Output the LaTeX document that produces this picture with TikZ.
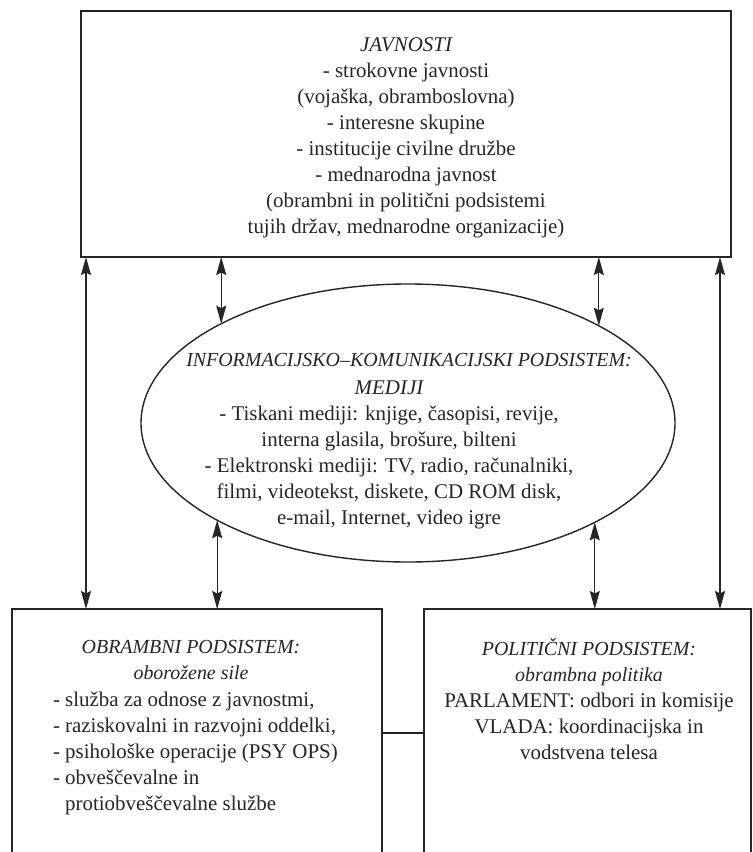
\documentclass[tikz,border=0pt]{standalone}
\usepackage{fontspec}
\setmainfont{Liberation Serif}
\usetikzlibrary{arrows.meta,shapes.geometric}
\begin{document}
\begin{tikzpicture}[x=1bp,y=-1bp,
  frame/.style={draw=black!85, line width=1.4bp, rectangle, inner sep=0pt, outer sep=0pt},
  oval/.style={draw=black!85, line width=1.4bp, ellipse, inner sep=0pt, outer sep=0pt},
  txt/.style={font=\fontsize{21}{26}\selectfont, text=black!85, inner sep=0pt, outer sep=0pt},
  head/.style={font=\fontsize{20}{26}\selectfont\itshape},
  arr/.style={line width=1.2bp, draw=black!85, {Stealth[length=18bp,width=10bp,inset=2.5bp]}-{Stealth[length=18bp,width=10bp,inset=2.5bp]}},
  link/.style={line width=1.4bp, draw=black!85}]
\useasboundingbox (0,0) rectangle (753,852);
\clip (0,0) rectangle (753,852);
\fill[white] (0,0) rectangle (753,852);

% boxes
\node[frame, minimum width=650bp, minimum height=246bp] (pub) at (406,134) {};
\node[oval, minimum width=534bp, minimum height=278bp] (ell) at (408,423) {};
\node[frame, minimum width=370bp, minimum height=261bp] (def) at (197,739.5) {};
\node[frame, minimum width=327bp, minimum height=261bp] (pol) at (587.5,739.5) {};

% texts
\node[txt, align=center, anchor=north] (pubtxt) at (406,38)
  {{\itshape JAVNOSTI}\\- strokovne javnosti\\(vojaška, obramboslovna)\\- interesne skupine\\- institucije civilne družbe\\- mednarodna javnost\\(obrambni in politični podsistemi\\tujih držav, mednarodne organizacije)};
\node[txt, head, anchor=north] (elltitle) at (409,353)
  {INFORMACIJSKO–KOMUNIKACIJSKI PODSISTEM:};
\node[txt, align=center, anchor=north] (elltxt) at (389,381)
  {{\itshape MEDIJI}\\- Tiskani mediji: knjige, časopisi, revije,\\interna glasila, brošure, bilteni\\- Elektronski mediji: TV, radio, računalniki,\\filmi, videotekst, diskete, CD ROM disk,\\e-mail, Internet, video igre};
\node[txt, head, align=center, anchor=north] (deftitle) at (191,640)
  {OBRAMBNI PODSISTEM:\\oborožene sile};
\node[txt, align=left, anchor=north west] (deftxt) at (53,692)
  {- služba za odnose z javnostmi,\\- raziskovalni in razvojni oddelki,\\- psihološke operacije (PSY OPS)\\- obveščevalne in\\\hphantom{- }protiobveščevalne službe};
\node[txt, head, align=center, anchor=north] (poltitle) at (589,638)
  {POLITIČNI PODSISTEM:\\obrambna politika};
\node[txt, align=center, anchor=north] (poltxt) at (589,693)
  {PARLAMENT: odbori in komisije\\VLADA: koordinacijska in\\vodstvena telesa};

% connectors
\coordinate (xl) at (86,0);
\coordinate (xr) at (720,0);
\draw[arr] (pub.south -| xl) -- (def.north -| xl);
\draw[arr] (pub.south -| xr) -- (pol.north -| xr);
\draw[arr] (pub.south -| ell.152.8) -- (ell.152.8);
\draw[arr] (pub.south -| ell.27.9) -- (ell.27.9);
\draw[arr] (ell.207.2) -- (def.north -| ell.207.2);
\draw[arr] (ell.332.1) -- (pol.north -| ell.332.1);
\draw[link] ([yshift=6.5bp]def.east) -- ([yshift=6.5bp]pol.west);
\end{tikzpicture}
\end{document}
